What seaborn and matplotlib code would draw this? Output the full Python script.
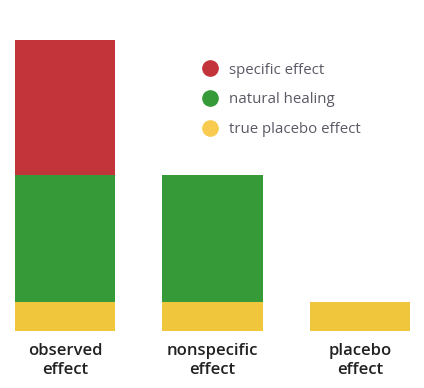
import numpy as np
import pandas as pd
import matplotlib
matplotlib.use("Agg")
import matplotlib.pyplot as plt
import seaborn as sns
from matplotlib.lines import Line2D

categories = ["observed\neffect", "nonspecific\neffect", "placebo\neffect"]
placebo = [10, 10, 10]
natural = [45, 45, 0]
specific = [48, 0, 0]

layer_names = ["specific effect", "natural healing", "true placebo effect"]
layer_colors = ["#C3343A", "#359A37", "#F0C63C"]
legend_colors = ["#C3343A", "#359A37", "#F8CB50"]

sns.set_style("white")
plt.rcParams["font.family"] = ["Open Sans", "DejaVu Sans"]

df = pd.DataFrame({"category": categories, "placebo": placebo,
                   "natural": natural, "specific": specific})
df["lvl1"] = df["placebo"]
df["lvl2"] = df["placebo"] + df["natural"]
df["lvl3"] = df["lvl2"] + df["specific"]

fig = plt.figure(figsize=(4.24, 3.88), dpi=100)
ax = fig.add_axes([0, 0.1477, 1, 0.8969 - 0.1477])

# layered cumulative bars: tallest first
for col, color in zip(["lvl3", "lvl2", "lvl1"], layer_colors):
    sns.barplot(data=df, x="category", y=col, color=color, width=0.68,
                saturation=1, ax=ax, linewidth=0)

ax.set_xlim(-65 / 147.5, (424 - 65) / 147.5)
ax.set_ylim(0, df["lvl3"].max())
ax.set_xlabel("")
ax.set_ylabel("")
ax.set_yticks([])
ax.tick_params(axis="x", length=0, pad=9, labelsize=12, labelcolor="#222222")
for lab in ax.get_xticklabels():
    lab.set_linespacing(1.25)
    lab.set_fontweight("semibold")
sns.despine(ax=ax, left=True, bottom=True, top=True, right=True)

handles = [Line2D([], [], marker="o", linestyle="", markersize=11,
                  markerfacecolor=c, markeredgecolor=c) for c in legend_colors]
leg = fig.legend(handles, layer_names, loc="upper left",
                 bbox_to_anchor=(193 / 424, 1 - 55 / 388), frameon=False,
                 fontsize=10.8, labelcolor="#5A5A66", labelspacing=0.98,
                 handletextpad=0.7, borderpad=0, handlelength=1.2)

fig.savefig("out.png", dpi=100)
